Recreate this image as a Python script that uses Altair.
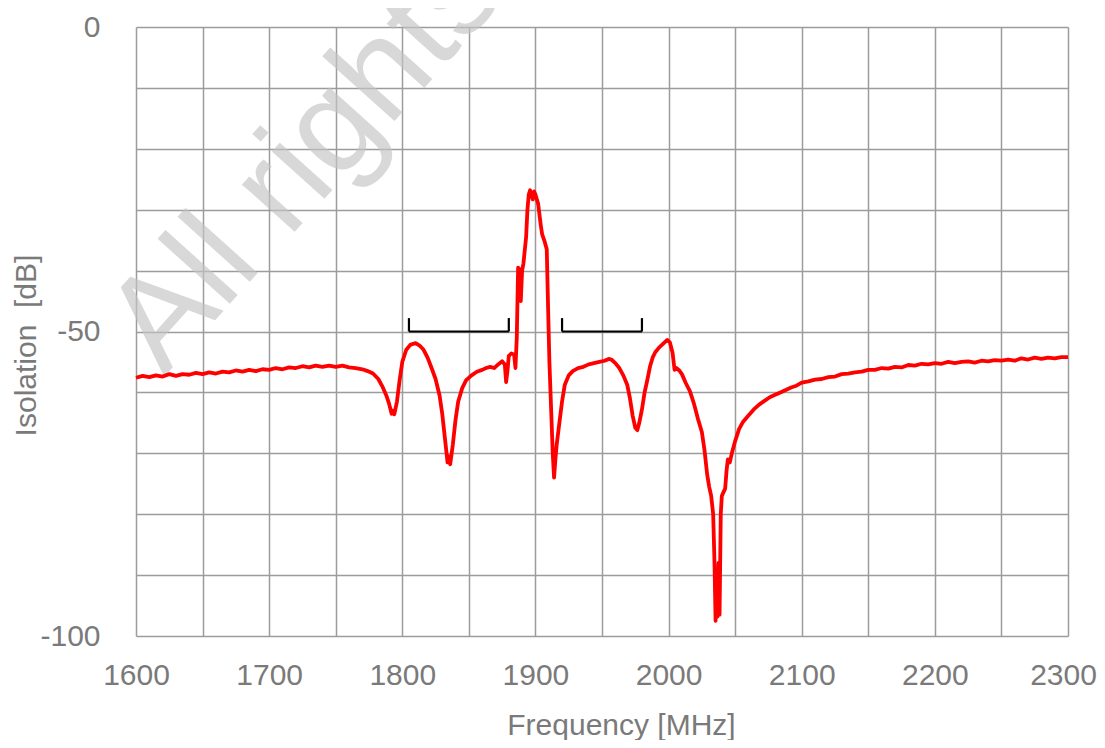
import altair as alt
import pandas as pd

freq_mhz = [
    1600, 1605, 1610, 1615, 1620, 1625, 1630, 1635, 1640, 1645, 1650, 1655, 1660, 1665, 1670,
    1675, 1680, 1685, 1690, 1695, 1700, 1705, 1710, 1715, 1720, 1725, 1730, 1735, 1740, 1745,
    1750, 1755, 1760, 1765, 1770, 1774, 1778, 1782, 1785, 1788, 1790, 1792, 1793, 1794, 1796,
    1798, 1800, 1803, 1806, 1810, 1813, 1816, 1819, 1822, 1825, 1828, 1830, 1832, 1834, 1835,
    1836, 1838, 1840, 1842, 1845, 1848, 1852, 1856, 1860, 1863, 1866, 1869, 1872, 1875, 1877,
    1878, 1879, 1880, 1882, 1884, 1885, 1886, 1887, 1888, 1889, 1890, 1891, 1893, 1894, 1895,
    1896, 1897, 1898, 1899, 1900, 1902, 1904, 1905, 1907, 1908.5, 1909.5, 1910.5, 1912, 1913, 1914,
    1915, 1916, 1918, 1920, 1922, 1925, 1928, 1932, 1936, 1940, 1944, 1948, 1952, 1955, 1957,
    1960, 1963, 1966, 1969, 1971, 1973, 1975, 1976.5, 1978, 1980, 1982, 1984, 1986, 1988, 1990,
    1993, 1996, 1999, 2001, 2003, 2004.5, 2006, 2008, 2010, 2013, 2016, 2019, 2022, 2025, 2027,
    2029, 2030.5, 2032, 2033.5, 2034.5, 2035.3, 2036, 2036.8, 2037.5, 2038.3, 2039.2, 2040, 2041, 2042.5, 2043.5,
    2044.5, 2046, 2047.5, 2050, 2053, 2056, 2060, 2064, 2068, 2072, 2076, 2080, 2084, 2088, 2092,
    2096, 2100, 2105, 2110, 2115, 2120, 2125, 2130, 2135, 2140, 2145, 2150, 2155, 2160, 2165,
    2170, 2175, 2180, 2185, 2190, 2195, 2200, 2205, 2210, 2215, 2220, 2225, 2230, 2235, 2240,
    2245, 2250, 2255, 2260, 2265, 2270, 2275, 2280, 2285, 2290, 2295, 2300,
]
isolation_db = [
    -57.6, -57.3, -57.5, -57.2, -57.4, -57.0, -57.3, -57.0, -57.1, -56.8, -57.0, -56.7, -56.9, -56.6, -56.7,
    -56.4, -56.6, -56.3, -56.5, -56.2, -56.3, -56.0, -56.2, -55.9, -56.0, -55.7, -55.9, -55.6, -55.8, -55.6,
    -55.8, -55.6, -55.9, -56.0, -56.2, -56.5, -56.9, -57.8, -59.0, -60.5, -61.8, -63.5, -63.0, -63.6, -61.5,
    -58.0, -55.0, -53.0, -52.2, -51.9, -52.3, -53.0, -54.3, -56.0, -57.8, -60.5, -63.5, -67.5, -71.5, -70.5,
    -71.8, -68.5, -64.5, -61.5, -59.3, -58.0, -57.2, -56.6, -56.3, -56.0, -55.8, -56.0, -55.4, -54.9, -55.4,
    -58.3, -56.5, -54.0, -53.6, -53.8, -56.0, -51.0, -39.5, -39.8, -45.0, -40.0, -38.8, -34.5, -30.0, -27.5,
    -26.8, -27.6, -28.3, -27.0, -27.5, -29.0, -32.5, -34.0, -35.3, -36.5, -46.0, -55.0, -64.0, -70.0, -74.0,
    -71.0, -68.5, -65.0, -61.5, -58.8, -57.2, -56.5, -56.0, -55.8, -55.4, -55.2, -55.0, -54.8, -54.5, -54.6,
    -55.2, -56.0, -57.2, -58.8, -61.0, -63.8, -65.8, -66.2, -65.0, -62.8, -60.0, -58.0, -55.8, -54.3, -53.4,
    -52.6, -52.0, -51.4, -51.8, -53.5, -56.3, -56.0, -56.4, -57.0, -58.5, -59.8, -61.8, -64.3, -66.5, -69.5,
    -73.5, -75.5, -77.0, -80.0, -88.0, -97.5, -90.0, -96.8, -88.0, -96.5, -80.0, -77.0, -76.5, -75.8, -73.0,
    -71.0, -71.5, -70.0, -68.0, -66.0, -64.8, -63.8, -62.8, -62.0, -61.4, -60.8, -60.4, -60.0, -59.6, -59.2,
    -58.9, -58.4, -58.2, -57.9, -57.8, -57.5, -57.4, -57.0, -56.9, -56.7, -56.6, -56.3, -56.3, -56.0, -56.1,
    -55.8, -55.9, -55.5, -55.6, -55.3, -55.4, -55.2, -55.3, -55.0, -55.2, -55.0, -54.9, -55.1, -54.8, -54.9,
    -54.7, -54.8, -54.6, -54.8, -54.4, -54.6, -54.3, -54.5, -54.3, -54.4, -54.2, -54.2,
]

# Band brackets
band_start = [1805, 1920]
band_end = [1880, 1980]
band_level = [-50, -50]
band_tick_top = [-47.8, -47.8]

# Axis grid / tick values
x_grid_values = list(range(1600, 2301, 50))
y_grid_values = list(range(-100, 1, 10))

watermark_text = ["All rights reserved"]

FONT = "Liberation Sans"
TEXT_COLOR = "#7a7a7a"
GRID_COLOR = "#9c9c9c"

trace = pd.DataFrame({"freq": freq_mhz, "iso": isolation_db})
bands = pd.DataFrame({"start": band_start, "end": band_end,
                      "level": band_level, "top": band_tick_top})
wm = pd.DataFrame({"t": watermark_text})

x_scale = alt.Scale(domain=[1600, 2300], nice=False, zero=False)
y_scale = alt.Scale(domain=[-100, 0], nice=False, zero=False)

x_axis = alt.Axis(
    values=x_grid_values, grid=True, gridColor=GRID_COLOR, gridWidth=1.5,
    domain=False, ticks=False, tickSize=0,
    labelExpr="datum.value % 100 == 0 ? '' + datum.value : ''",
    labelFont=FONT, labelFontSize=30, labelColor=TEXT_COLOR, labelPadding=24,
    labelOffset={"condition": {"test": "datum.value == 2300", "value": -5}, "value": 0},
    labelFlush=False, labelOverlap=False,
    title="Frequency [MHz]", titleFont=FONT, titleFontSize=30, titleFontWeight="normal",
    titleColor=TEXT_COLOR, titleX=485, titleY=98, titleBaseline="alphabetic",
    titleAnchor="middle", titleAlign="center",
)
y_axis = alt.Axis(
    values=y_grid_values, grid=True, gridColor=GRID_COLOR, gridWidth=1.5,
    domain=False, ticks=False, tickSize=0,
    labelExpr="datum.value % 50 == 0 ? '' + datum.value : ''",
    labelFont=FONT, labelFontSize=30, labelColor=TEXT_COLOR, labelPadding=36,
    labelFlush=False, labelOverlap=False, labelBaseline="middle",
    title="Isolation\u00a0 [dB]", titleFont=FONT, titleFontSize=30, titleFontWeight="normal",
    titleColor=TEXT_COLOR, titleX=-101, titleY=318, titleBaseline="alphabetic",
    titleAngle=-90, titleAlign="center",
)

watermark = alt.Chart(wm).mark_text(
    font=FONT, fontSize=134, color="#c4c4c4", opacity=0.65,
    angle=312, align="left", baseline="alphabetic",
).encode(
    x=alt.value(28), y=alt.value(350), text="t:N"
)

line = alt.Chart(trace).mark_line(color="#ff0000", strokeWidth=3.8, strokeJoin="round").encode(
    x=alt.X("freq:Q", scale=x_scale, axis=x_axis),
    y=alt.Y("iso:Q", scale=y_scale, axis=y_axis),
)

bracket_h = alt.Chart(bands).mark_rule(color="#000000", strokeWidth=2.2).encode(
    x=alt.X("start:Q", scale=x_scale), x2="end:Q", y=alt.Y("level:Q", scale=y_scale)
)
bracket_l = alt.Chart(bands).mark_rule(color="#000000", strokeWidth=2.2).encode(
    x=alt.X("start:Q", scale=x_scale), y=alt.Y("level:Q", scale=y_scale), y2="top:Q"
)
bracket_r = alt.Chart(bands).mark_rule(color="#000000", strokeWidth=2.2).encode(
    x=alt.X("end:Q", scale=x_scale), y=alt.Y("level:Q", scale=y_scale), y2="top:Q"
)

chart = alt.layer(watermark, line, bracket_h, bracket_l, bracket_r).properties(
    width=932, height=609,
    autosize=alt.AutoSizeParams(type="none"),
    padding={"left": 128, "top": 19, "right": 29, "bottom": 104},
    background="#ffffff",
).configure_view(strokeWidth=0)

chart.save("out.html", embed_options={"renderer": "svg", "actions": False})
